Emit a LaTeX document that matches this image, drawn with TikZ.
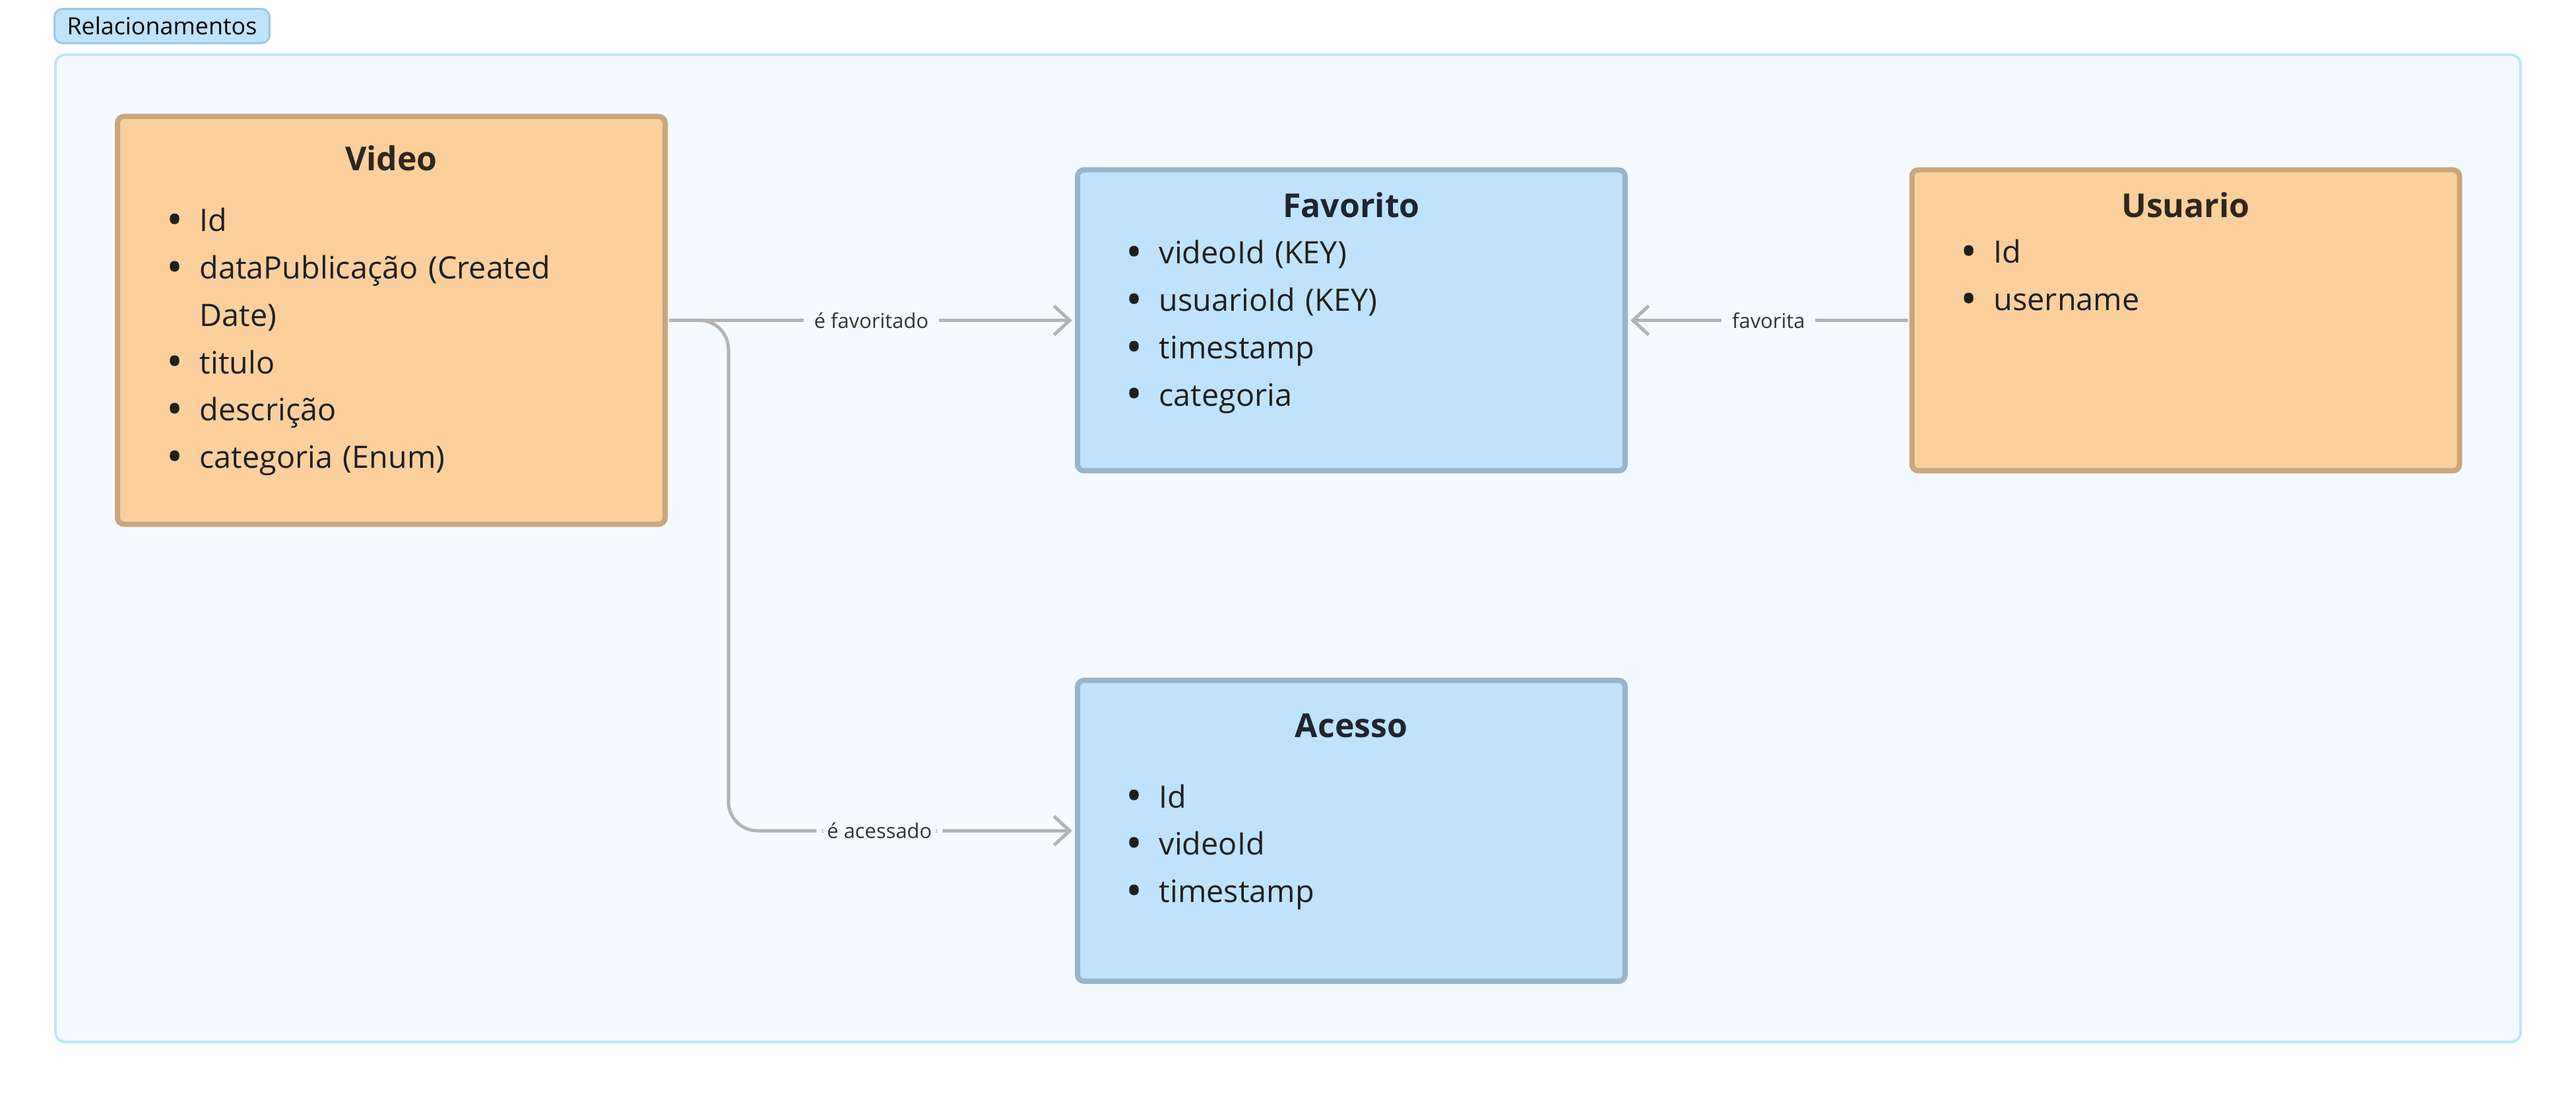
\documentclass[tikz,border=0pt]{standalone}
\usepackage{fontspec}
\setmainfont{Open Sans}
\usetikzlibrary{arrows.meta}
\setlength{\parindent}{0pt}
\definecolor{framefill}{HTML}{F5FAFE}
\definecolor{frameline}{HTML}{BEE3FB}
\definecolor{tagfill}{HTML}{BEE3FC}
\definecolor{tagline}{HTML}{9CC7E5}
\definecolor{orangefill}{HTML}{FBD09D}
\definecolor{orangeline}{HTML}{CBA67D}
\definecolor{bluefill}{HTML}{BFE3FC}
\definecolor{blueline}{HTML}{97B5CD}
\definecolor{edgegray}{HTML}{B3B3B3}
\definecolor{itemtext}{HTML}{1F1F1F}
\definecolor{orangetitle}{HTML}{2E271C}
\definecolor{bluetitle}{HTML}{1E2530}
\definecolor{labeltext}{HTML}{333333}
\tikzset{
  entity/.style={line width=0.8mm, rounded corners=1mm, minimum width=83mm, minimum height=45.6mm},
  orangebox/.style={entity, fill=orangefill, draw=orangeline},
  bluebox/.style={entity, fill=bluefill, draw=blueline},
  title/.style={font=\fontsize{14.2}{17}\selectfont\bfseries, anchor=base, inner sep=0pt},
  attrs/.style={font=\fontsize{13.3}{20.4}\selectfont, anchor=base west, text width=70mm, align=left, inner sep=0pt, text=itemtext},
  tag/.style={fill=tagfill, draw=tagline, line width=0.3mm, rounded corners=1.2mm, minimum width=32.6mm, minimum height=5.2mm, font=\fontsize{10.2}{12}\selectfont},
  rel/.style={draw=edgegray, line width=0.5mm, line cap=round, shorten <=0.4mm, shorten >=0.4mm, -{Straight Barb[length=2.4mm,width=4.4mm]}},
  rellabel/.style={fill=framefill, font=\fontsize{8.8}{10}\selectfont, text=labeltext, inner xsep=1.6mm, inner ysep=0.5mm},
}
\newcommand{\itm}{\leavevmode\llap{\raisebox{-1.6pt}{\fontsize{19}{19}\selectfont\textbullet}\hspace{2.5mm}}}
\begin{document}
\begin{tikzpicture}[x=1mm, y=-1mm]
  \useasboundingbox (0,0) rectangle (390.4,166.4);
  % Group frame
  \draw[fill=framefill, draw=frameline, line width=0.4mm, rounded corners=1.5mm] (8.4,8.3) rectangle (382.0,157.9);
  \node[tag] (grp) at (24.55,3.95) {Relacionamentos};
  % Entities
  \node[orangebox, minimum height=61.8mm] (video) at (59.3,48.55) {};
  \node[bluebox] (favorito) at (204.8,48.55) {};
  \node[orangebox] (usuario) at (331.25,48.55) {};
  \node[bluebox] (acesso) at (204.8,125.9) {};
  % Titles
  \node[title, text=orangetitle] (videotitle) at (59.3,25.9) {Video};
  \node[title, text=bluetitle] (favoritotitle) at (204.8,33.0) {Favorito};
  \node[title, text=orangetitle] (usuariotitle) at (331.25,33.0) {Usuario};
  \node[title, text=bluetitle] (acessotitle) at (204.8,111.7) {Acesso};
  % Attributes
  \node[attrs] (videoattrs) at (30.2,35.1) {\itm Id\\ \itm dataPublicação (Created\\ Date)\\ \itm titulo\\ \itm descrição\\ \itm categoria (Enum)};
  \node[attrs] (favoritoattrs) at (175.6,40.0) {\itm videoId (KEY)\\ \itm usuarioId (KEY)\\ \itm timestamp\\ \itm categoria};
  \node[attrs] (usuarioattrs) at (302.1,39.9) {\itm Id\\ \itm username};
  \node[attrs] (acessoattrs) at (175.6,122.4) {\itm Id\\ \itm videoId\\ \itm timestamp};
  % Relations
  \coordinate (split) at (110.4,48.55);
  \draw[rel, rounded corners=4.4mm] (video.east) -- (split) |- node[rellabel, pos=0.718] (lblacesso) {é acessado} (acesso.west);
  \draw[rel] (video.east) -- node[rellabel] (lblfavorito) {é favoritado} (favorito.west);
  \draw[rel] (usuario.west) -- node[rellabel] (lblfavorita) {favorita} (favorito.east);
\end{tikzpicture}
\end{document}
